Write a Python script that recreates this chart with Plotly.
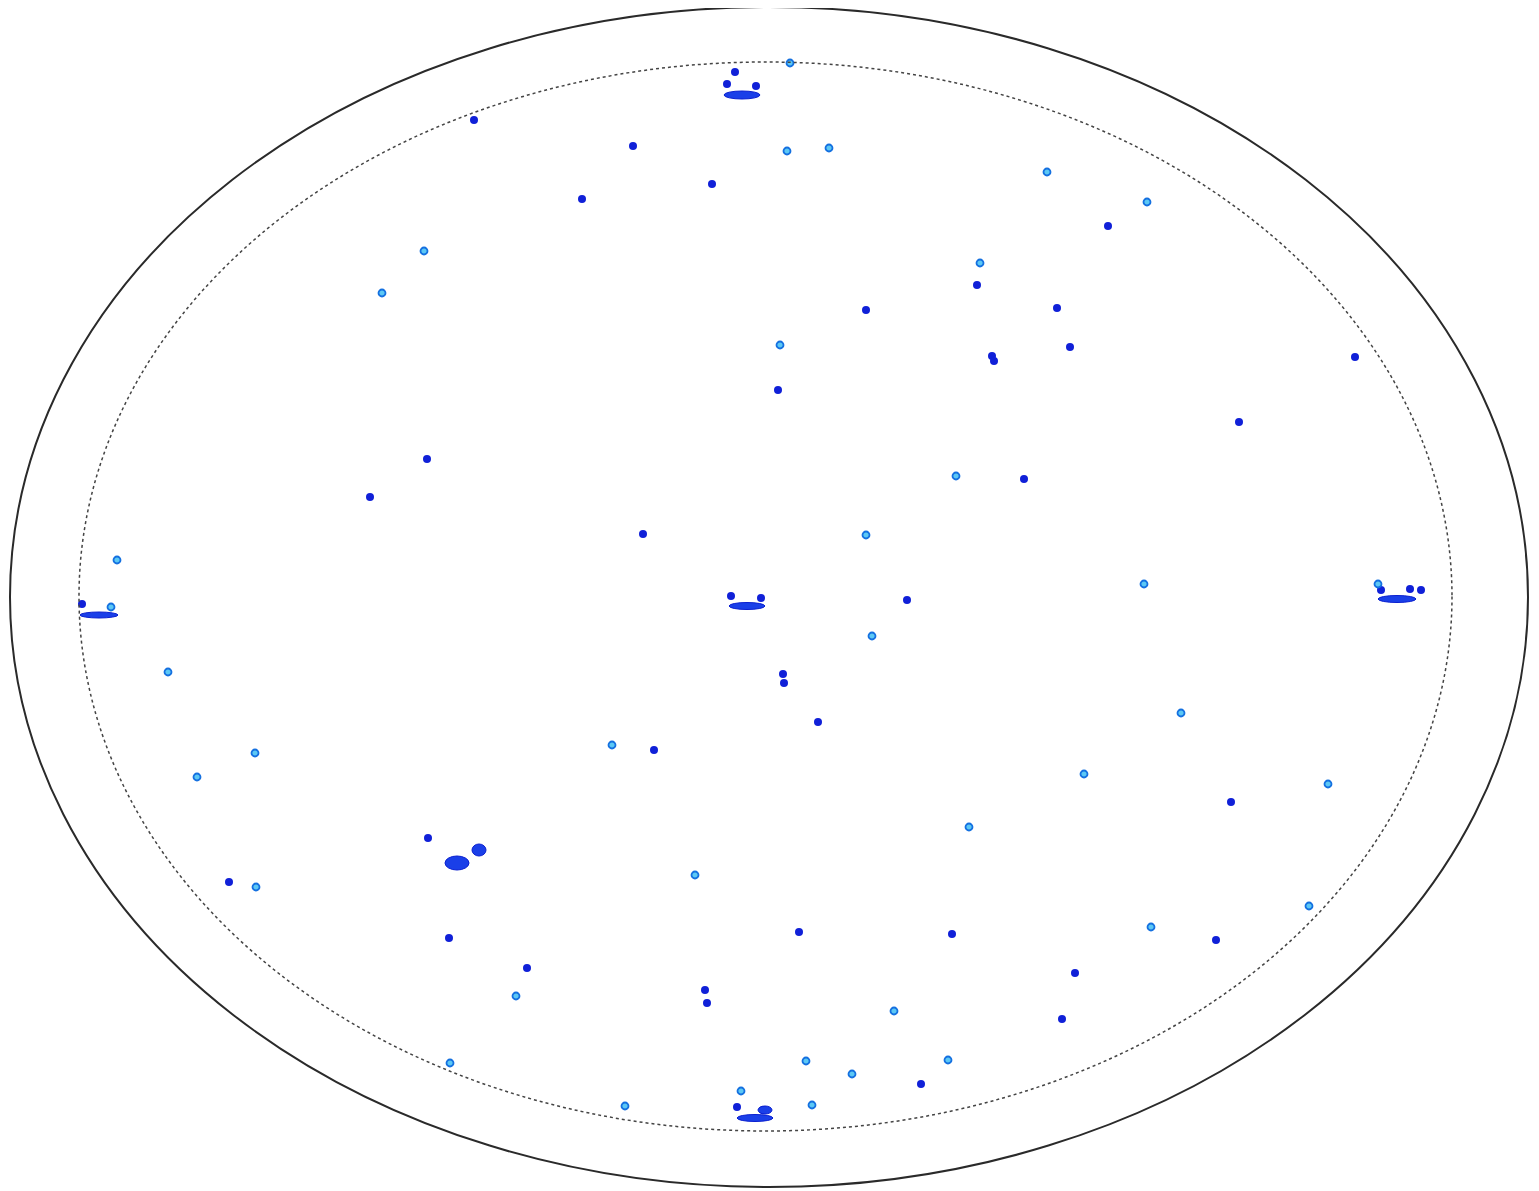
import plotly.graph_objects as go

# Wafer outline (image pixel coordinates)
outer_bounds = [10, 7, 1528, 1187]      # x0, y0, x1, y1
inner_bounds = [79, 62, 1452, 1131]

# Point defects: dark type
dark_x = [735, 727, 756, 474, 633, 712, 582, 1108, 977, 866, 1057, 1070, 992, 994, 1355, 778,
          1239, 427, 1024, 370, 643, 731, 761, 907, 82, 1381, 1410, 1421, 783, 784, 818, 654,
          1231, 428, 229, 799, 952, 1216, 449, 527, 1075, 705, 707, 1062, 921, 737, 763]
dark_y = [72, 84, 86, 120, 146, 184, 199, 226, 285, 310, 308, 347, 356, 361, 357, 390,
          422, 459, 479, 497, 534, 596, 598, 600, 604, 590, 589, 590, 674, 683, 722, 750,
          802, 838, 882, 932, 934, 940, 938, 968, 973, 990, 1003, 1019, 1084, 1107, 1110]

# Point defects: light type
light_x = [790, 787, 829, 1047, 1147, 424, 980, 382, 780, 956, 866, 117, 111, 1144, 1378,
           872, 168, 1181, 612, 255, 197, 1084, 1328, 969, 256, 695, 1309, 1151, 516, 894,
           806, 948, 450, 852, 741, 812, 625]
light_y = [63, 151, 148, 172, 202, 251, 263, 293, 345, 476, 535, 560, 607, 584, 584,
           636, 672, 713, 745, 753, 777, 774, 784, 827, 887, 875, 906, 927, 996, 1011,
           1061, 1060, 1063, 1074, 1091, 1105, 1106]

# Cluster defects: center and extent
cl_x = [742, 747, 99, 1397, 457, 479, 765, 755]
cl_y = [95, 606, 615, 599, 863, 850, 1110, 1118]
cl_w = [36, 36, 38, 38, 24, 14, 14, 36]
cl_h = [8, 7, 6, 7, 14, 12, 8, 7]

fig = go.Figure()

shapes = [
    dict(type="circle", xref="x", yref="y",
         x0=outer_bounds[0], y0=outer_bounds[1], x1=outer_bounds[2], y1=outer_bounds[3],
         line=dict(color="#2a2a2a", width=2)),
    dict(type="circle", xref="x", yref="y",
         x0=inner_bounds[0], y0=inner_bounds[1], x1=inner_bounds[2], y1=inner_bounds[3],
         line=dict(color="#444444", width=1.5, dash="dot")),
]
for cx, cy, w, h in zip(cl_x, cl_y, cl_w, cl_h):
    shapes.append(dict(type="circle", xref="x", yref="y",
                       x0=cx - w / 2, x1=cx + w / 2, y0=cy - h / 2, y1=cy + h / 2,
                       fillcolor="#1a3fe8", line=dict(color="#0a1fd0", width=1)))

fig.add_trace(go.Scatter(x=dark_x, y=dark_y, mode="markers",
                         marker=dict(size=8, color="#1020d8", line=dict(width=0)),
                         hoverinfo="skip", showlegend=False))
fig.add_trace(go.Scatter(x=light_x, y=light_y, mode="markers",
                         marker=dict(size=7, color="#5cc8f5", line=dict(width=1.8, color="#1470e0")),
                         hoverinfo="skip", showlegend=False))

# The page body has an 8px margin; show image coords 8..end so data pixels land on page pixels
fig.update_layout(
    width=1531, height=1183,
    margin=dict(l=0, r=0, t=0, b=0),
    paper_bgcolor="white", plot_bgcolor="white",
    shapes=shapes,
    xaxis=dict(range=[8, 1539], visible=False, showgrid=False, zeroline=False),
    yaxis=dict(range=[1191, 8], visible=False, showgrid=False, zeroline=False),
    showlegend=False,
)

fig.write_html("out.html")
